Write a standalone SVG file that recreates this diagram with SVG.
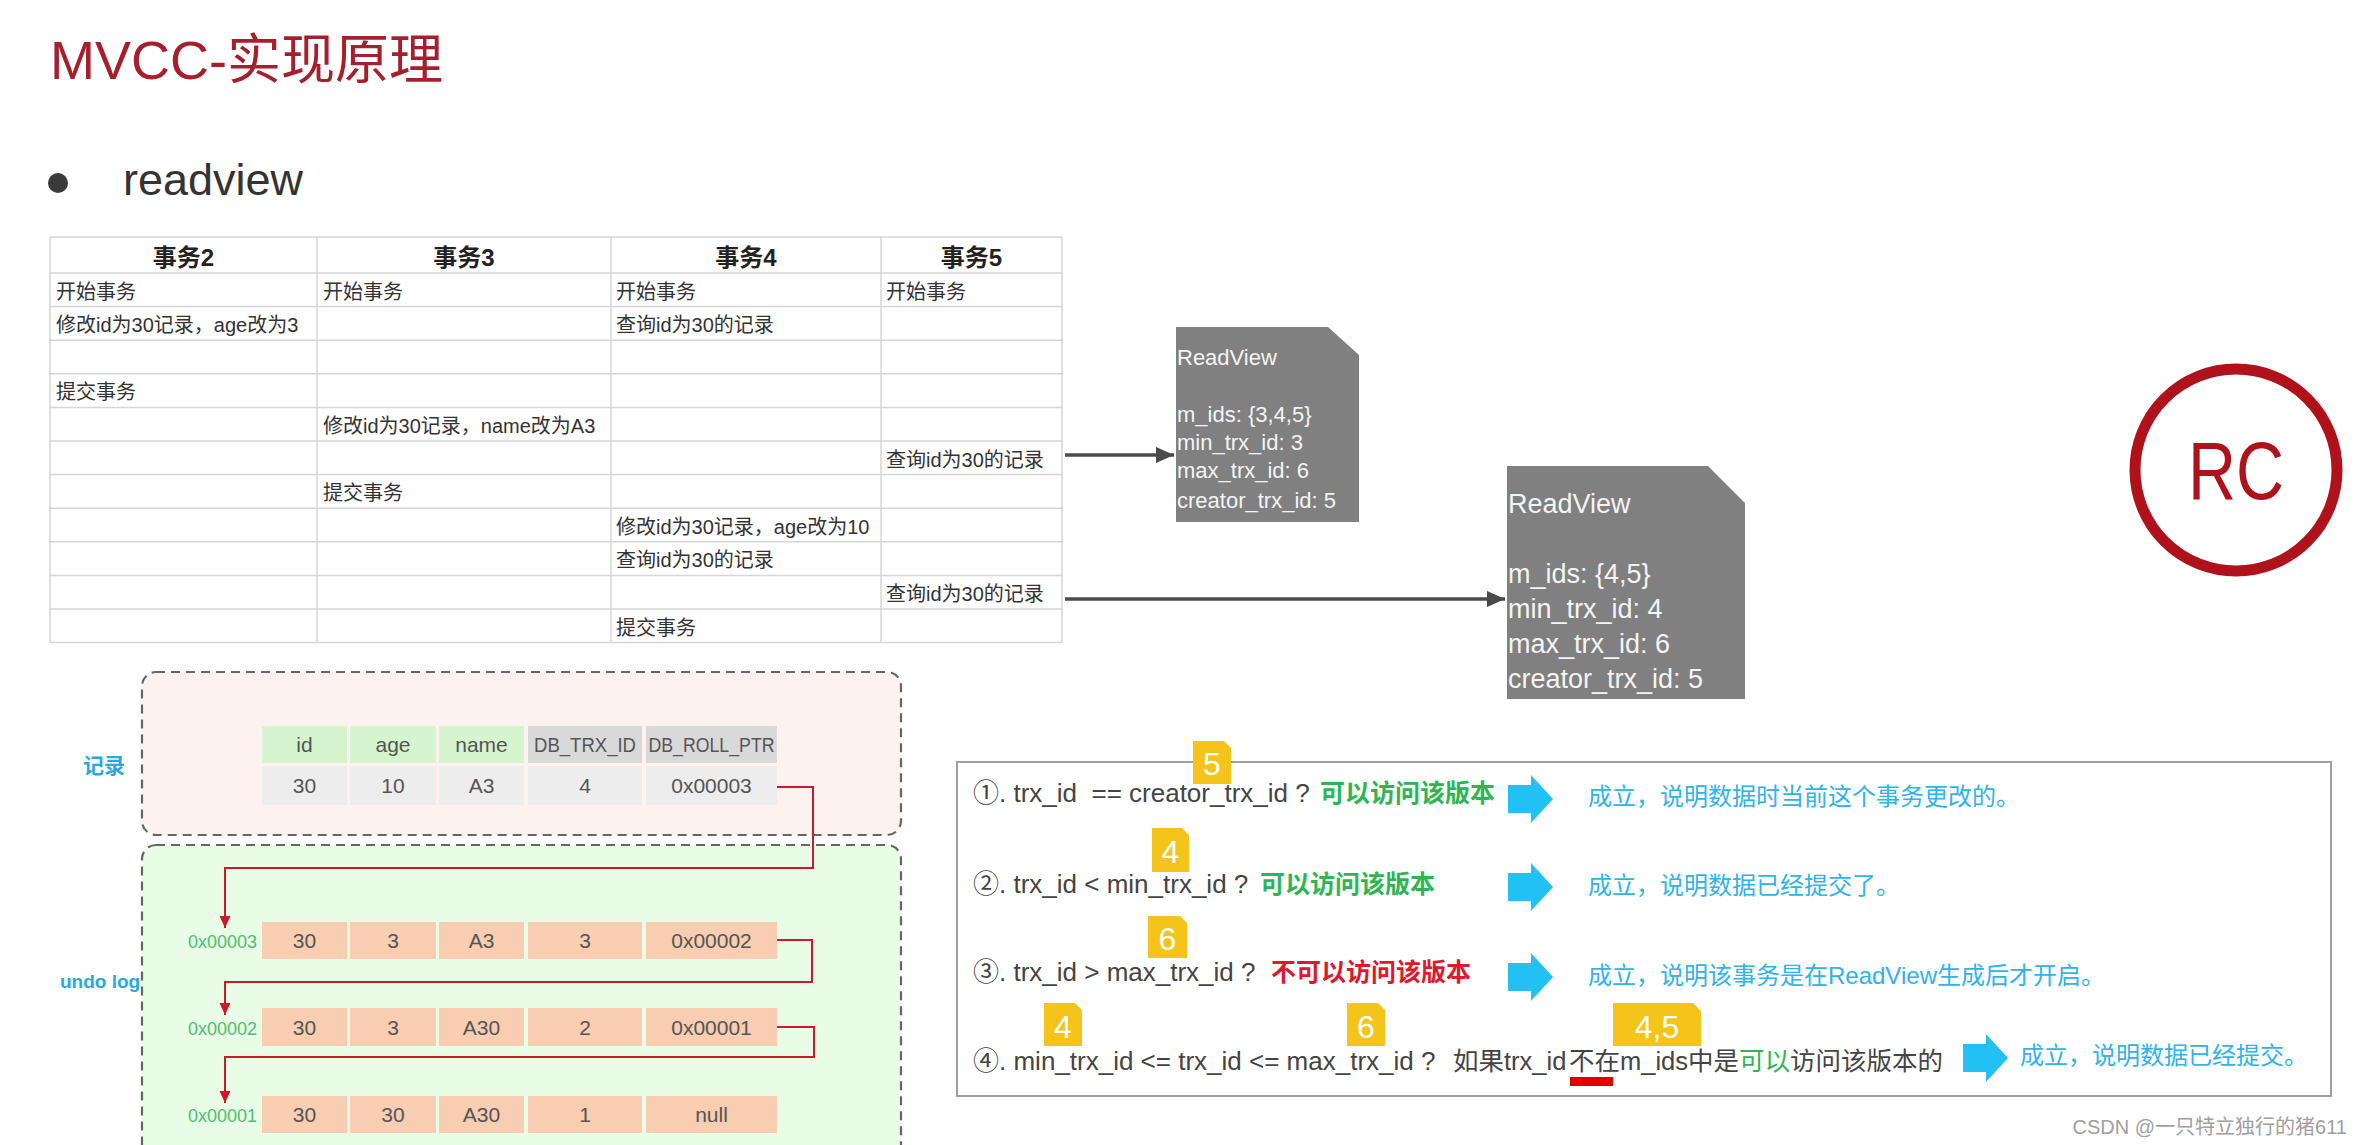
<svg xmlns="http://www.w3.org/2000/svg" width="2365" height="1145" viewBox="0 0 2365 1145">
<defs>
<style>
.f{font-family:"Liberation Sans","Noto Sans CJK SC",sans-serif}
.th{font-size:24px;font-weight:bold;fill:#222;text-anchor:middle}
.td{font-size:20px;fill:#333}
.grid{stroke:#d6d6d6;stroke-width:1.5;fill:none}
.rv{fill:#808080}
.rvt1{font-size:22px;fill:#f4f4f4}
.rvt2{font-size:27px;fill:#f4f4f4}
.hg{fill:#d6f5cf}
.hx{fill:#d9d9d9}
.cd{fill:#ededed}
.cp{fill:#f8cdb2}
.ct{font-size:21px;fill:#555;text-anchor:middle}
.addr{font-size:18px;fill:#4dbf72;text-anchor:end}
.rule{font-size:26px;fill:#444}
.rule2{font-size:25.5px;fill:#444}
.ok{fill:#2db553;font-weight:bold;font-size:25px}
.no{fill:#e0182d;font-weight:bold;font-size:25px}
.blue{fill:#2fb3e8;font-size:24px}
.badge{fill:#f4c41a}
.bt{fill:#fff;font-size:32px;text-anchor:middle}
.barrow{fill:#22c0f3}
.lbl{fill:#29a9e0;font-weight:bold}
.dash{stroke:#666;stroke-width:2.2;stroke-dasharray:9 6}
.red{stroke:#cc1a2a;stroke-width:2;fill:none}
.gray{stroke:#4a4a4a;stroke-width:3.5;fill:none}
</style>
<marker id="ag" markerUnits="userSpaceOnUse" markerWidth="18" markerHeight="16" viewBox="0 0 18 16" refX="18" refY="8" orient="auto"><path d="M0,0 L18,8 L0,16 Z" fill="#4a4a4a"/></marker>
<marker id="ar" markerUnits="userSpaceOnUse" markerWidth="12" markerHeight="12" viewBox="0 0 12 12" refX="12" refY="6" orient="auto"><path d="M0,0.5 L12,6 L0,11.5 Z" fill="#cc1a2a"/></marker>
</defs>
<rect width="2365" height="1145" fill="#fff"/>

<g id="title">
<text class="f" x="50" y="79" font-size="54" fill="#a61f2c">MVCC-实现原理</text>
</g>
<g id="bullet">
<circle cx="58" cy="183" r="10" fill="#3a3a3a"/>
<text class="f" x="123" y="195" font-size="45" fill="#333">readview</text>
</g>

<g id="transaction-table">
<path class="grid" d="M50,237H1062M50,273H1062M50,306.6H1062M50,340.2H1062M50,373.8H1062M50,407.4H1062M50,441H1062M50,474.6H1062M50,508.2H1062M50,541.8H1062M50,575.4H1062M50,609H1062M50,642.6H1062M50,237V642.6M317,237V642.6M611,237V642.6M881,237V642.6M1062,237V642.6"/>
<text class="f th" x="183.5" y="266">事务2</text>
<text class="f th" x="464" y="266">事务3</text>
<text class="f th" x="746" y="266">事务4</text>
<text class="f th" x="971.5" y="266">事务5</text>
<text class="f td" x="56" y="298.5">开始事务</text>
<text class="f td" x="323" y="298.5">开始事务</text>
<text class="f td" x="616" y="298.5">开始事务</text>
<text class="f td" x="886" y="298.5">开始事务</text>
<text class="f td" x="56" y="332.1">修改id为30记录，age改为3</text>
<text class="f td" x="616" y="332.1">查询id为30的记录</text>
<text class="f td" x="56" y="399.3">提交事务</text>
<text class="f td" x="323" y="432.9">修改id为30记录，name改为A3</text>
<text class="f td" x="886" y="466.5">查询id为30的记录</text>
<text class="f td" x="323" y="500.1">提交事务</text>
<text class="f td" x="616" y="533.7">修改id为30记录，age改为10</text>
<text class="f td" x="616" y="567.3">查询id为30的记录</text>
<text class="f td" x="886" y="600.9">查询id为30的记录</text>
<text class="f td" x="616" y="634.5">提交事务</text>
</g>

<g id="readview1">
<path class="rv" d="M1176,327H1328L1359,355V522H1176Z"/>
<text class="f rvt1" x="1177" y="365">ReadView</text>
<text class="f rvt1" x="1177" y="422">m_ids: {3,4,5}</text>
<text class="f rvt1" x="1177" y="450">min_trx_id: 3</text>
<text class="f rvt1" x="1177" y="478">max_trx_id: 6</text>
<text class="f rvt1" x="1177" y="508">creator_trx_id: 5</text>
</g>

<g id="readview2">
<path class="rv" d="M1507,466H1708L1745,503V699H1507Z"/>
<text class="f rvt2" x="1508" y="513">ReadView</text>
<text class="f rvt2" x="1508" y="583">m_ids: {4,5}</text>
<text class="f rvt2" x="1508" y="618">min_trx_id: 4</text>
<text class="f rvt2" x="1508" y="653">max_trx_id: 6</text>
<text class="f rvt2" x="1508" y="688">creator_trx_id: 5</text>
</g>

<g id="rc-badge">
<circle cx="2236" cy="470" r="101" fill="none" stroke="#b0121b" stroke-width="11"/>
<text class="f" x="2236" y="499" font-size="82" fill="#b0121b" text-anchor="middle" textLength="96" lengthAdjust="spacingAndGlyphs">RC</text>
</g>

<g id="record-area">
<rect class="dash" x="142" y="672" width="759" height="163" rx="14" fill="#fdf2f0"/>
<text class="f lbl" x="83" y="773" font-size="21">记录</text>
<rect class="hg" x="262" y="726" width="85" height="37"/>
<rect class="hg" x="350" y="726" width="86" height="37"/>
<rect class="hg" x="439" y="726" width="85" height="37"/>
<rect class="hx" x="528" y="726" width="114" height="37"/>
<rect class="hx" x="646" y="726" width="131" height="37"/>
<text class="f ct" x="304.5" y="752">id</text>
<text class="f ct" x="393" y="752">age</text>
<text class="f ct" x="481.5" y="752">name</text>
<text class="f ct" x="585" y="752" textLength="102" lengthAdjust="spacingAndGlyphs">DB_TRX_ID</text>
<text class="f ct" x="711.5" y="752" textLength="126" lengthAdjust="spacingAndGlyphs">DB_ROLL_PTR</text>
<rect class="cd" x="262" y="766" width="85" height="39"/>
<rect class="cd" x="350" y="766" width="86" height="39"/>
<rect class="cd" x="439" y="766" width="85" height="39"/>
<rect class="cd" x="528" y="766" width="114" height="39"/>
<rect class="cd" x="646" y="766" width="131" height="39"/>
<text class="f ct" x="304.5" y="793">30</text>
<text class="f ct" x="393" y="793">10</text>
<text class="f ct" x="481.5" y="793">A3</text>
<text class="f ct" x="585" y="793">4</text>
<text class="f ct" x="711.5" y="793">0x00003</text>
</g>

<g id="undo-log-area">
<rect class="dash" x="142" y="845" width="759" height="330" rx="14" fill="#e9fce5"/>
<text class="f lbl" x="60" y="988" font-size="19">undo log</text>
</g>

<g id="undo-0x00003">
<text class="f addr" x="257" y="948">0x00003</text>
<rect class="cp" x="262" y="922" width="85" height="37"/>
<rect class="cp" x="350" y="922" width="86" height="37"/>
<rect class="cp" x="439" y="922" width="85" height="37"/>
<rect class="cp" x="528" y="922" width="114" height="37"/>
<rect class="cp" x="646" y="922" width="131" height="37"/>
<text class="f ct" x="304.5" y="948">30</text>
<text class="f ct" x="393" y="948">3</text>
<text class="f ct" x="481.5" y="948">A3</text>
<text class="f ct" x="585" y="948">3</text>
<text class="f ct" x="711.5" y="948">0x00002</text>
</g>

<g id="undo-0x00002">
<text class="f addr" x="257" y="1035">0x00002</text>
<rect class="cp" x="262" y="1008" width="85" height="38"/>
<rect class="cp" x="350" y="1008" width="86" height="38"/>
<rect class="cp" x="439" y="1008" width="85" height="38"/>
<rect class="cp" x="528" y="1008" width="114" height="38"/>
<rect class="cp" x="646" y="1008" width="131" height="38"/>
<text class="f ct" x="304.5" y="1035">30</text>
<text class="f ct" x="393" y="1035">3</text>
<text class="f ct" x="481.5" y="1035">A30</text>
<text class="f ct" x="585" y="1035">2</text>
<text class="f ct" x="711.5" y="1035">0x00001</text>
</g>

<g id="undo-0x00001">
<text class="f addr" x="257" y="1122">0x00001</text>
<rect class="cp" x="262" y="1096" width="85" height="37"/>
<rect class="cp" x="350" y="1096" width="86" height="37"/>
<rect class="cp" x="439" y="1096" width="85" height="37"/>
<rect class="cp" x="528" y="1096" width="114" height="37"/>
<rect class="cp" x="646" y="1096" width="131" height="37"/>
<text class="f ct" x="304.5" y="1122">30</text>
<text class="f ct" x="393" y="1122">30</text>
<text class="f ct" x="481.5" y="1122">A30</text>
<text class="f ct" x="585" y="1122">1</text>
<text class="f ct" x="711.5" y="1122">null</text>
</g>

<g id="rules">
<rect x="957" y="762" width="1374" height="334" fill="#fff" stroke="#a0a0a0" stroke-width="2"/>
<text class="f rule" x="973" y="802" xml:space="preserve">①. trx_id  == creator_trx_id ?</text>
<text class="f ok" x="1320" y="802">可以访问该版本</text>
<text class="f blue" x="1588" y="805">成立，说明数据时当前这个事务更改的。</text>
<text class="f rule" x="973" y="893">②. trx_id &lt; min_trx_id ?</text>
<text class="f ok" x="1260" y="893">可以访问该版本</text>
<text class="f blue" x="1588" y="894">成立，说明数据已经提交了。</text>
<text class="f rule" x="973" y="981">③. trx_id &gt; max_trx_id ?</text>
<text class="f no" x="1271" y="981">不可以访问该版本</text>
<text class="f blue" x="1588" y="984">成立，说明该事务是在ReadView生成后才开启。</text>
<text class="f rule" x="973" y="1070">④. min_trx_id &lt;= trx_id &lt;= max_trx_id ?</text>
<text class="f rule2" x="1453" y="1070">如果trx_id<tspan x="1569">不在m_ids中是</tspan><tspan fill="#2db553">可以</tspan>访问该版本的</text>
<rect x="1570" y="1077" width="43" height="9" fill="#e00000"/>
<text class="f blue" x="2020" y="1064">成立，说明数据已经提交。</text>
<path class="barrow" d="M1508,785H1531V775L1553,799L1531,823V813H1508Z"/>
<path class="barrow" d="M1508,873H1531V863L1553,887L1531,911V901H1508Z"/>
<path class="barrow" d="M1508,963H1531V953L1553,977L1531,1001V991H1508Z"/>
<path class="barrow" d="M1963,1044H1986V1034L2008,1058L1986,1082V1072H1963Z"/>
</g>

<g id="badges">
<path class="badge" d="M1193,741H1224L1231,748V784H1193Z"/>
<text class="f bt" x="1212" y="775">5</text>
<path class="badge" d="M1152,828H1182L1189,835V872H1152Z"/>
<text class="f bt" x="1170.5" y="863">4</text>
<path class="badge" d="M1148,916H1180L1187,923V958H1148Z"/>
<text class="f bt" x="1167.5" y="950">6</text>
<path class="badge" d="M1044,1003H1075L1082,1010V1046H1044Z"/>
<text class="f bt" x="1063" y="1038">4</text>
<path class="badge" d="M1347,1003H1378L1385,1010V1046H1347Z"/>
<text class="f bt" x="1366" y="1038">6</text>
<path class="badge" d="M1613,1003H1693L1701,1011V1046H1613Z"/>
<text class="f bt" x="1657" y="1038">4,5</text>
</g>

<g id="connectors">
<path class="gray" d="M1065,455H1174" marker-end="url(#ag)"/>
<path class="gray" d="M1065,599H1505" marker-end="url(#ag)"/>
<path class="red" d="M777,787H813V868H225V928" marker-end="url(#ar)"/>
<path class="red" d="M777,940H812V982H225V1015" marker-end="url(#ar)"/>
<path class="red" d="M777,1027H814V1057H225V1103" marker-end="url(#ar)"/>
</g>

<g id="watermark">
<text class="f" x="2347" y="1134" font-size="20" fill="#a0a0a0" text-anchor="end">CSDN @一只特立独行的猪611</text>
</g>
</svg>
